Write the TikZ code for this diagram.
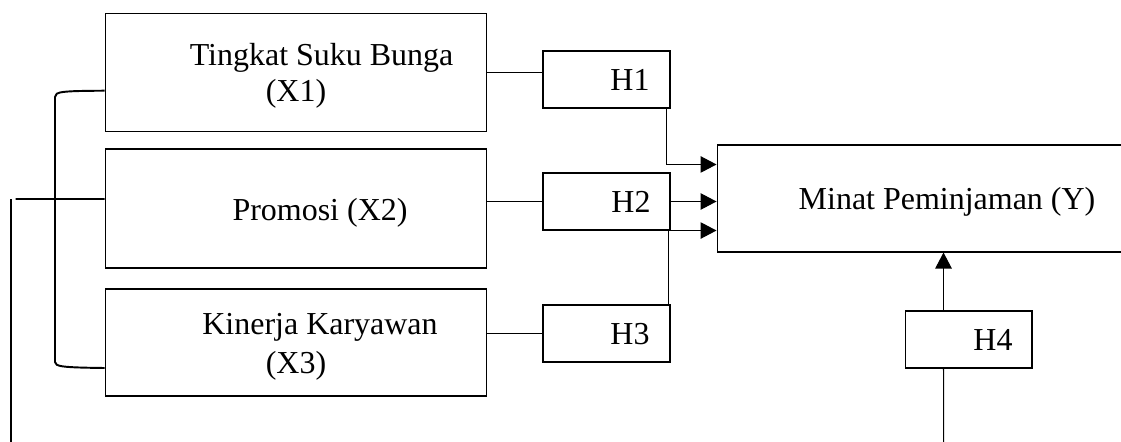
\documentclass[tikz,border=0pt]{standalone}
\usepackage{fontspec}
\setmainfont{Liberation Serif}
\usetikzlibrary{arrows.meta}

\begin{document}
\begin{tikzpicture}[x=0.02cm,y=-0.02cm]
\tikzset{box/.style = {draw, line width=0.6pt, inner sep=0pt}}
\tikzset{lbl/.style = {anchor=base, inner sep=0pt, font=\fontsize{18.2}{22}\selectfont}}
\tikzset{link/.style = {line width=0.6pt}}
\tikzset{edge/.style = {link, -{Triangle[length=0.32cm,width=0.33cm]}}}
\tikzset{brace/.style = {line width=1.1pt}}
\useasboundingbox (0,0) rectangle (1121,442);
\clip (0,0) rectangle (1121,442);

\foreach \pos/\w/\h/\name in {{(296,72.7)/7.64/2.37/x1}, {(296,208.5)/7.64/2.38/x2},
  {(296,342.5)/7.64/2.14/x3}, {(606.5,79.5)/2.54/1.14/h1}, {(606.5,201.5)/2.54/1.14/h2},
  {(606.5,333.5)/2.54/1.14/h3}, {(968.5,339.5)/2.54/1.14/h4}, {(926,198.5)/8.36/2.14/y}}
\node[box, minimum width=\w cm, minimum height=\h cm] (\name) at \pos {};

\foreach \pos/\txt/\name in {{(321.6,65.7)/Tingkat Suku Bunga/tx1}, {(296,101.7)/(X1)/lx1},
  {(320,220)/Promosi (X2)/tx2}, {(320,334)/Kinerja Karyawan/tx3}, {(296,373)/(X3)/lx3},
  {(630,90.7)/H1/th1}, {(631,212.7)/H2/th2}, {(630,344.3)/H3/th3}, {(993,350.7)/H4/th4},
  {(947,210)/Minat Peminjaman (Y)/ty}}
\node[lbl] (\name) at \pos {\txt};

\foreach \from/\to in {x1/h1}
\draw[link] (\from.east) -- (\from.east -| \to.west);
\foreach \from/\to in {x2/h2, x3/h3}
\draw[link] (\to.west -| \from.east) -- (\to.west);

\draw[edge] ([xshift=-0.08cm]h1.south east) |- ([yshift=-0.4cm]y.north west);
\draw[edge] (h2.east) -- (h2.east -| y.west);
\draw[edge] ([xshift=-0.04cm]h3.north east) |- (h2.south -| y.west);
\draw[edge] ([xshift=-0.5cm]h4.north) -- ([xshift=-0.5cm]h4.north |- y.south);

\coordinate (h4end) at (943.7,445);
\draw[link] ([xshift=-0.5cm]h4.south) -- (h4end);

% bracket joining the three variables
\coordinate (bt) at (55,97);
\coordinate (bb) at (55,362);
\draw[brace] ([yshift=-0.36cm]x1.west) .. controls (62,91) and (55,91.5) .. (bt)
  -- (bb) .. controls (55,366.5) and (62,367.5) .. ([yshift=-0.51cm]x3.west);

\coordinate (inlet) at (15.7,199);
\coordinate (feedtop) at (11,199);
\coordinate (feedbot) at (11,445);
\draw[brace] (inlet) -- ([yshift=0.19cm]x2.west);
\draw[brace] (feedtop) -- (feedbot);
\end{tikzpicture}
\end{document}
